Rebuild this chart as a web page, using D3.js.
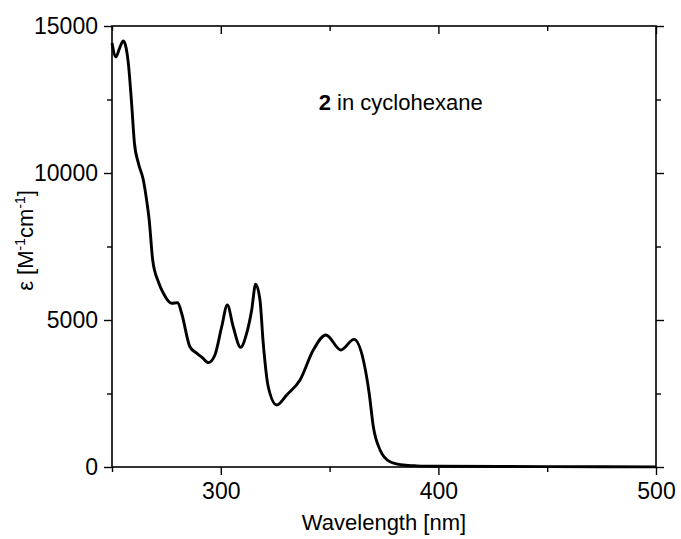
<!DOCTYPE html>
<html>
<head>
<meta charset="utf-8">
<script src="https://cdn.jsdelivr.net/npm/d3@7"></script>
<style>
  body { margin: 0; background: #fff; }
  svg { display: block; font-family: "Liberation Sans", Arial, sans-serif; }
  .curve { fill: none; stroke: #000; stroke-width: 2.9; stroke-linejoin: round; }
  .frame { fill: none; stroke: #000; stroke-width: 1.6; }
  .tick line { stroke: #000; stroke-width: 1.4; }
</style>
</head>
<body>
<div id="chart"></div>
<script>
// Absorption spectrum, values
const wavelength = [250, 251.8, 253.5, 255.2, 256.5, 257.5, 259, 260.3, 262.1, 264.4, 265.9, 267.1,
  268.7, 271.3, 273.6, 277.4, 280.2, 282, 285.8, 288.9, 291.5, 294.3, 297.3, 300.4, 303, 305.7,
  309.1, 311.9, 314.2, 316, 318, 319.5, 321.8, 325.7, 330.3, 336.4, 342.5, 348.3, 355.2, 361.2,
  365.5, 368.2, 370.1, 373.2, 377.8, 383.9, 390, 400, 450, 500];
const epsilon = [14420, 13950, 14250, 14490, 14250, 13740, 12380, 11020, 10340, 9760, 9080, 8400,
  7040, 6300, 5910, 5570, 5590, 5230, 4090, 3870, 3720, 3550, 3810, 4770, 5510, 4770,
  4070, 4550, 5340, 6220, 5680, 4210, 2730, 2110, 2450, 2960, 3980, 4490, 3980, 4340,
  3640, 2500, 1370, 580, 180, 70, 40, 25, 12, 5];

const xTicks = [300, 400, 500];
const xMinor = [250, 350, 450];
const yTicks = [0, 5000, 10000, 15000];
const yMinor = [2500, 7500, 12500];

const W = 681, H = 539;
const margin = { top: 26, right: 25, bottom: 72, left: 112 };
const pw = W - margin.left - margin.right;
const ph = H - margin.top - margin.bottom;

const svg = d3.select('#chart').append('svg')
    .attr('width', W)
    .attr('height', H);

const g = svg.append('g')
    .attr('transform', `translate(${margin.left},${margin.top})`);

const x = d3.scaleLinear().domain([250, 500]).range([0, pw]);
const y = d3.scaleLinear().domain([0, 15000]).range([ph, 0]);

// Axes: outward ticks on bottom/left, inward mirror ticks on top/right
function addAxis(axis, transform, showLabels) {
    const a = g.append('g').attr('transform', transform).call(axis);
    a.select('.domain').remove();
    a.selectAll('text')
        .style('font-size', '23px')
        .attr('fill', '#000');
    if (!showLabels) a.selectAll('text').remove();
    return a;
}

addAxis(d3.axisBottom(x).tickValues(xTicks).tickSize(8).tickPadding(8).tickFormat(d3.format('d')),
    `translate(0,${ph})`, true);
addAxis(d3.axisBottom(x).tickValues(xMinor).tickSize(5), `translate(0,${ph})`, false);
addAxis(d3.axisLeft(y).tickValues(yTicks).tickSize(8).tickPadding(6).tickFormat(d3.format('d')),
    'translate(0,0)', true);
addAxis(d3.axisLeft(y).tickValues(yMinor).tickSize(5), 'translate(0,0)', false);
addAxis(d3.axisBottom(x).tickValues(xTicks).tickSize(8), 'translate(0,0)', false);
addAxis(d3.axisBottom(x).tickValues(xMinor).tickSize(5), 'translate(0,0)', false);
addAxis(d3.axisLeft(y).tickValues(yTicks).tickSize(-8), `translate(${pw},0)`, false);
addAxis(d3.axisLeft(y).tickValues(yMinor).tickSize(-5), `translate(${pw},0)`, false);

// Spectrum
const line = d3.line()
    .x((d, i) => x(wavelength[i]))
    .y(d => y(d))
    .curve(d3.curveMonotoneX);

g.append('path')
    .attr('class', 'curve')
    .attr('d', line(epsilon));

g.append('rect')
    .attr('class', 'frame')
    .attr('width', pw)
    .attr('height', ph);

// Annotation
const note = g.append('text')
    .attr('x', x(345))
    .attr('y', 84)
    .style('font-size', '22px');
note.append('tspan').attr('font-weight', 'bold').text('2');
note.append('tspan').text(' in cyclohexane');

// Axis titles
svg.append('text')
    .attr('x', margin.left + pw / 2)
    .attr('y', 530)
    .attr('text-anchor', 'middle')
    .style('font-size', '22px')
    .text('Wavelength [nm]');

const yl = svg.append('text')
    .attr('transform', `translate(33,${margin.top + ph / 2 - 6}) rotate(-90)`)
    .attr('text-anchor', 'middle')
    .style('font-size', '22px');
yl.append('tspan').text('ε [M');
yl.append('tspan').attr('dy', -8).style('font-size', '14px').text('-1');
yl.append('tspan').attr('dy', 8).text('cm');
yl.append('tspan').attr('dy', -8).style('font-size', '14px').text('-1');
yl.append('tspan').attr('dy', 8).text(']');
</script>
</body>
</html>
